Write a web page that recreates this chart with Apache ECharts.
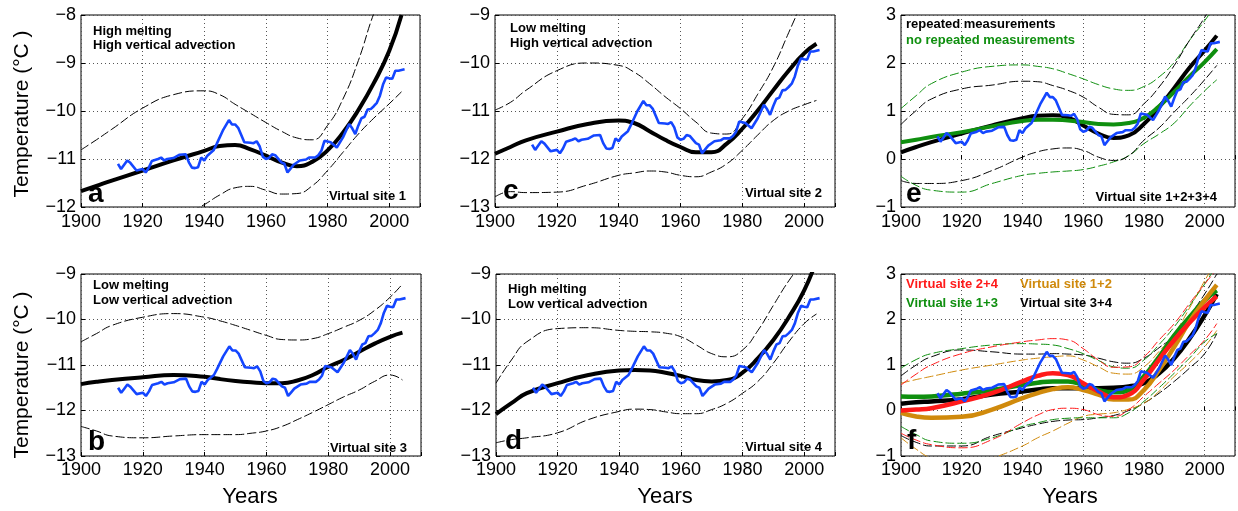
<!DOCTYPE html>
<html>
<head>
<meta charset="utf-8">
<script src="https://cdn.jsdelivr.net/npm/echarts@6/dist/echarts.min.js"></script>
<style>
html,body{margin:0;padding:0;background:#fff;}
#chart{width:1238px;height:511px;}
</style>
</head>
<body>
<div id="chart"></div>
<script>
// ---------- DATA ----------
const YEARS = [1900,1905,1910,1920,1930,1940,1945,1950,1955,1960,1965,1970,1975,1980,1985,1990,1995,2000,2004];

// Panel a
const aFit   = [-11.67,-11.56,-11.45,-11.24,-11.03,-10.83,-10.73,-10.71,-10.80,-10.93,-11.07,-11.15,-11.06,-10.82,-10.45,-9.98,-9.42,-8.75,-8.0];
const aUpper = [-10.81,-10.60,-10.38,-9.94,-9.66,-9.58,-9.66,-9.86,-10.05,-10.24,-10.42,-10.56,-10.60,-10.30,-9.75,-8.95,-7.97,-7.2,-6.5];
const aLower = [-13.05,-12.95,-12.85,-12.6,-12.3,-11.95,-11.75,-11.6,-11.57,-11.65,-11.73,-11.72,-11.56,-11.24,-10.86,-10.48,-10.15,-9.85,-9.6];
// Panel c
const cFit   = [-11.89,-11.75,-11.61,-11.43,-11.27,-11.20,-11.25,-11.42,-11.60,-11.75,-11.86,-11.86,-11.68,-11.37,-10.99,-10.57,-10.16,-9.80,-9.60];
const cUpper = [-10.98,-10.82,-10.57,-10.16,-10.0,-10.05,-10.19,-10.43,-10.70,-10.95,-11.23,-11.46,-11.48,-11.16,-10.65,-10.09,-9.37,-8.64,-8.06];
const cLower = [-12.79,-12.68,-12.70,-12.69,-12.54,-12.34,-12.29,-12.25,-12.27,-12.34,-12.37,-12.27,-12.10,-11.82,-11.5,-11.2,-11.0,-10.87,-10.78];
// Panel e
const eFitRep    = [0.14,0.25,0.35,0.53,0.70,0.85,0.90,0.91,0.86,0.70,0.53,0.44,0.49,0.73,1.08,1.48,1.90,2.26,2.57];
const eFitNoRep  = [0.35,0.40,0.46,0.56,0.68,0.79,0.82,0.82,0.80,0.77,0.73,0.72,0.75,0.86,1.10,1.40,1.72,2.02,2.29];
const eUpperRep  = [0.72,1.01,1.25,1.46,1.54,1.62,1.61,1.53,1.43,1.29,1.08,0.93,0.92,1.15,1.50,1.95,2.47,2.95,3.4];
const eLowerRep  = [-0.45,-0.51,-0.51,-0.45,-0.24,0.04,0.15,0.21,0.23,0.18,0.04,-0.03,0.07,0.39,0.65,0.98,1.30,1.65,1.95];
const eUpperNoRep= [1.05,1.32,1.57,1.81,1.93,1.96,1.93,1.88,1.78,1.67,1.55,1.46,1.43,1.51,1.71,2.02,2.47,2.88,3.25];
const eLowerNoRep= [-0.36,-0.55,-0.65,-0.69,-0.51,-0.34,-0.30,-0.27,-0.25,-0.22,-0.15,-0.06,0.07,0.32,0.52,0.75,1.10,1.42,1.65];
// Panel b
const bFit   = [-11.42,-11.37,-11.33,-11.27,-11.22,-11.26,-11.31,-11.35,-11.38,-11.40,-11.40,-11.34,-11.22,-11.04,-10.89,-10.71,-10.53,-10.38,-10.29];
const bUpper = [-10.49,-10.31,-10.13,-9.95,-9.87,-9.95,-10.03,-10.13,-10.24,-10.35,-10.44,-10.45,-10.42,-10.31,-10.17,-10.02,-9.80,-9.51,-9.22];
const bLower = [-12.35,-12.45,-12.56,-12.60,-12.56,-12.53,-12.53,-12.53,-12.50,-12.45,-12.35,-12.20,-12.04,-11.87,-11.70,-11.55,-11.36,-11.22,-11.33];
// Panel d
const dFit   = [-12.08,-11.84,-11.62,-11.40,-11.22,-11.12,-11.11,-11.12,-11.17,-11.24,-11.33,-11.36,-11.33,-11.17,-10.85,-10.45,-9.95,-9.36,-8.7];
const dUpper = [-11.4,-10.89,-10.49,-10.20,-10.18,-10.24,-10.26,-10.27,-10.30,-10.38,-10.56,-10.75,-10.82,-10.67,-10.24,-9.69,-9.15,-8.7,-8.3];
const dLower = [-12.71,-12.64,-12.60,-12.49,-12.20,-12.02,-11.97,-11.98,-12.03,-12.07,-12.07,-11.98,-11.84,-11.62,-11.36,-10.96,-10.49,-10.09,-9.88];
// Panel f
const fFit24   = [0.0,0.02,0.05,0.2,0.38,0.64,0.76,0.82,0.78,0.6,0.42,0.29,0.35,0.68,1.12,1.55,1.93,2.27,2.51];
const fFit13   = [0.31,0.30,0.31,0.37,0.45,0.56,0.61,0.64,0.64,0.56,0.45,0.40,0.45,0.75,1.18,1.65,2.05,2.42,2.64];
const fFit34   = [0.15,0.18,0.2,0.25,0.35,0.42,0.46,0.49,0.49,0.49,0.49,0.5,0.53,0.6,0.82,1.15,1.58,2.09,2.56];
const fFit12   = [-0.05,-0.13,-0.16,-0.14,0.02,0.27,0.38,0.47,0.51,0.45,0.35,0.24,0.24,0.45,0.89,1.4,1.95,2.42,2.76];
const fUp24    = [0.56,0.8,1.0,1.25,1.4,1.51,1.55,1.58,1.55,1.36,1.11,0.95,0.96,1.18,1.55,1.91,2.35,2.78,3.1];
const fLo24    = [-0.5,-0.65,-0.75,-0.82,-0.64,-0.27,-0.1,0.02,0.05,0.02,-0.09,-0.13,0.02,0.31,0.6,0.89,1.22,1.55,1.91];
const fUp13    = [0.93,1.12,1.25,1.36,1.44,1.47,1.46,1.44,1.36,1.25,1.1,0.96,0.93,1.11,1.45,1.84,2.3,2.78,3.2];
const fLo13    = [-0.35,-0.53,-0.67,-0.72,-0.6,-0.35,-0.27,-0.2,-0.17,-0.16,-0.16,-0.16,-0.05,0.2,0.5,0.82,1.15,1.51,1.69];
const fUp34    = [0.76,1.0,1.18,1.33,1.29,1.24,1.24,1.25,1.24,1.22,1.15,1.07,1.04,1.15,1.38,1.65,2.08,2.56,3.0];
const fLo34    = [-0.55,-0.7,-0.78,-0.78,-0.56,-0.38,-0.3,-0.24,-0.21,-0.2,-0.16,-0.11,0.0,0.16,0.38,0.64,0.93,1.25,1.69];
const fUp12    = [0.6,0.68,0.75,0.89,1.0,1.11,1.15,1.18,1.2,1.11,0.96,0.82,0.8,0.96,1.3,1.69,2.25,2.85,3.3];
const fLo12    = [-0.6,-0.85,-1.05,-1.25,-1.05,-0.78,-0.6,-0.45,-0.28,-0.13,-0.08,-0.05,0.03,0.16,0.42,0.75,1.05,1.4,1.76];

// Observations (blue)
const OBS_YEARS = [1912,1913,1914,1915,1916,1918,1920,1921,1922,1923,1925,1926,1927,1928,1930,1932,1934,1935,1936,1937,1938,1939,1940,1941,1943,1944,1946,1948,1949,1950,1951,1953,1955,1956,1957,1958,1959,1960,1961,1962,1963,1965,1966,1967,1968,1969,1971,1973,1974,1976,1977,1978,1979,1981,1983,1985,1987,1988,1989,1990,1991,1992,1993,1994,1995,1996,1997,1998,1999,2000,2001,2002,2003,2005];
const obsA = [-11.10,-11.21,-11.12,-11.03,-11.08,-11.24,-11.21,-11.28,-11.18,-11.04,-11.00,-10.97,-11.03,-11.00,-10.98,-10.91,-10.90,-11.07,-11.18,-11.19,-11.17,-10.97,-11.03,-10.93,-10.82,-10.69,-10.41,-10.19,-10.28,-10.28,-10.35,-10.65,-10.66,-10.67,-10.63,-10.74,-10.95,-11.00,-10.98,-10.90,-10.92,-11.07,-11.10,-11.28,-11.20,-11.12,-11.03,-11.01,-10.97,-10.97,-10.92,-10.83,-10.62,-10.65,-10.76,-10.55,-10.27,-10.36,-10.48,-10.30,-10.15,-10.12,-9.97,-9.96,-9.90,-9.83,-9.68,-9.45,-9.30,-9.32,-9.33,-9.16,-9.16,-9.13];
const obsC = [-11.70,-11.81,-11.72,-11.63,-11.68,-11.84,-11.81,-11.88,-11.78,-11.64,-11.60,-11.57,-11.63,-11.60,-11.58,-11.51,-11.50,-11.67,-11.78,-11.79,-11.77,-11.57,-11.63,-11.53,-11.42,-11.29,-11.01,-10.79,-10.88,-10.88,-10.95,-11.25,-11.26,-11.27,-11.23,-11.34,-11.55,-11.60,-11.58,-11.50,-11.52,-11.67,-11.70,-11.88,-11.80,-11.72,-11.63,-11.61,-11.57,-11.57,-11.52,-11.43,-11.22,-11.25,-11.36,-11.15,-10.87,-10.96,-11.08,-10.90,-10.75,-10.72,-10.57,-10.56,-10.50,-10.43,-10.28,-10.05,-9.90,-9.92,-9.93,-9.76,-9.76,-9.73];
const obsB = [-11.50,-11.61,-11.52,-11.43,-11.48,-11.64,-11.61,-11.68,-11.58,-11.44,-11.40,-11.37,-11.43,-11.40,-11.38,-11.31,-11.30,-11.47,-11.58,-11.59,-11.57,-11.37,-11.43,-11.33,-11.22,-11.09,-10.81,-10.59,-10.68,-10.68,-10.75,-11.05,-11.06,-11.07,-11.03,-11.14,-11.35,-11.40,-11.38,-11.30,-11.32,-11.47,-11.50,-11.68,-11.60,-11.52,-11.43,-11.41,-11.37,-11.37,-11.32,-11.23,-11.02,-11.05,-11.16,-10.95,-10.67,-10.76,-10.88,-10.70,-10.55,-10.52,-10.37,-10.36,-10.30,-10.23,-10.08,-9.85,-9.70,-9.72,-9.73,-9.56,-9.56,-9.53];
const obsD = [-11.50,-11.61,-11.52,-11.43,-11.48,-11.64,-11.61,-11.68,-11.58,-11.44,-11.40,-11.37,-11.43,-11.40,-11.38,-11.31,-11.30,-11.47,-11.58,-11.59,-11.57,-11.37,-11.43,-11.33,-11.22,-11.09,-10.81,-10.59,-10.68,-10.68,-10.75,-11.05,-11.06,-11.07,-11.03,-11.14,-11.35,-11.40,-11.38,-11.30,-11.32,-11.47,-11.50,-11.68,-11.60,-11.52,-11.43,-11.41,-11.37,-11.37,-11.32,-11.23,-11.02,-11.05,-11.16,-10.95,-10.67,-10.76,-10.88,-10.70,-10.55,-10.52,-10.37,-10.36,-10.30,-10.23,-10.08,-9.85,-9.70,-9.72,-9.73,-9.56,-9.56,-9.53];
const obsE = [0.47,0.36,0.45,0.54,0.49,0.33,0.36,0.29,0.39,0.53,0.57,0.60,0.54,0.57,0.59,0.66,0.67,0.50,0.39,0.38,0.40,0.60,0.54,0.64,0.75,0.88,1.16,1.38,1.29,1.29,1.22,0.92,0.91,0.90,0.94,0.83,0.62,0.57,0.59,0.67,0.65,0.50,0.47,0.29,0.37,0.45,0.54,0.56,0.60,0.60,0.65,0.74,0.95,0.92,0.81,1.02,1.30,1.21,1.09,1.27,1.42,1.45,1.60,1.61,1.67,1.74,1.89,2.12,2.27,2.25,2.24,2.41,2.41,2.44];
const obsF = [0.38,0.27,0.36,0.45,0.40,0.24,0.27,0.20,0.30,0.44,0.48,0.51,0.45,0.48,0.50,0.57,0.58,0.41,0.30,0.29,0.31,0.51,0.45,0.55,0.66,0.79,1.07,1.29,1.20,1.20,1.13,0.83,0.82,0.81,0.85,0.74,0.53,0.48,0.50,0.58,0.56,0.41,0.38,0.20,0.28,0.36,0.45,0.47,0.51,0.51,0.56,0.65,0.86,0.83,0.72,0.93,1.21,1.12,1.00,1.18,1.33,1.36,1.51,1.52,1.58,1.65,1.80,2.03,2.18,2.16,2.15,2.32,2.32,2.35];

const X_TICKS = [1900,1920,1940,1960,1980,2000];

// ---------- STYLE / LAYOUT ----------
const BLUE = '#1446ff', GREEN = '#0f8f0f', RED = '#ff1a1a', ORANGE = '#d08a0c', BLACK = '#000';
const FONT = "'Liberation Sans', Arial, Helvetica, sans-serif";

const panels = [
  {grid:{left:81, top:15, width:339, height:192}, y:[-12,-8],
   lines:[[aUpper,BLACK,'d'],[aLower,BLACK,'d'],[aFit,BLACK,'t']], obs:obsA},
  {grid:{left:495, top:15, width:340, height:192}, y:[-13,-9],
   lines:[[cUpper,BLACK,'d'],[cLower,BLACK,'d'],[cFit,BLACK,'t']], obs:obsC},
  {grid:{left:901, top:15, width:339, height:192}, y:[-1,3],
   lines:[[eUpperNoRep,GREEN,'d'],[eLowerNoRep,GREEN,'d'],[eUpperRep,BLACK,'d'],[eLowerRep,BLACK,'d'],
          [eFitRep,BLACK,'t'],[eFitNoRep,GREEN,'t']], obs:obsE},
  {grid:{left:81, top:274, width:340, height:182}, y:[-13,-9],
   lines:[[bUpper,BLACK,'d'],[bLower,BLACK,'d'],[bFit,BLACK,'t']], obs:obsB},
  {grid:{left:496, top:274, width:339, height:182}, y:[-13,-9],
   lines:[[dUpper,BLACK,'d'],[dLower,BLACK,'d'],[dFit,BLACK,'t']], obs:obsD},
  {grid:{left:901, top:274, width:339, height:182}, y:[-1,3],
   lines:[[fUp34,BLACK,'d'],[fLo34,BLACK,'d'],[fUp12,ORANGE,'d'],[fLo12,ORANGE,'d'],
          [fUp13,GREEN,'d'],[fLo13,GREEN,'d'],[fUp24,RED,'d'],[fLo24,RED,'d'],
          [fFit34,BLACK,'t'],[fFit13,GREEN,'t'],[fFit12,ORANGE,'t'],[fFit24,RED,'t']], obs:obsF}
];

const grids = [], xAxes = [], yAxes = [], series = [];
const minus = v => (v < 0 ? '\u2212' + Math.abs(v) : String(v));
panels.forEach((p, i) => {
  grids.push(Object.assign({show:true, borderColor:'#000', borderWidth:1, backgroundColor:'transparent'}, p.grid));
  xAxes.push({
    type:'value', gridIndex:i, min:1900, max:2010, interval:20,
    axisLine:{show:false},
    axisTick:{show:true, inside:true, length:4, lineStyle:{color:'#000'}},
    axisLabel:{margin: i < 3 ? 6 : 5, fontFamily:FONT, fontSize:18, color:'#000',
      formatter: v => (X_TICKS.indexOf(v) >= 0 ? String(v) : '')},
    splitLine:{show:true, lineStyle:{color:'#555', type:[1,3], width:1}}
  });
  yAxes.push({
    type:'value', gridIndex:i, min:p.y[0], max:p.y[1], interval:1,
    axisLine:{show:false},
    axisTick:{show:true, inside:true, length:4, lineStyle:{color:'#000'}},
    axisLabel:{margin:5, fontFamily:FONT, fontSize:18, color:'#000', formatter: minus},
    splitLine:{show:true, lineStyle:{color:'#555', type:[1,3], width:1}}
  });
  p.lines.forEach(([vals, color, kind]) => {
    const thick = kind === 't';
    series.push({
      type:'line', xAxisIndex:i, yAxisIndex:i, smooth:0.5, showSymbol:false, symbol:'none',
      clip:true, silent:true,
      data: YEARS.map((y, k) => [y, vals[k]]),
      lineStyle:{color:color, width: thick ? (i === 5 ? 4.5 : 4) : 1, type: thick ? 'solid' : [9,3]},
      z: thick ? 3 : 2
    });
  });
  series.push({
    type:'line', xAxisIndex:i, yAxisIndex:i, showSymbol:false, symbol:'none', clip:true, silent:true,
    data: OBS_YEARS.map((y, k) => [y, p.obs[k]]),
    lineStyle:{color:BLUE, width:2.6}, z:4
  });
});

function txt(text, x, y, opt) {
  opt = opt || {};
  return {
    type:'text', z:100, silent:true, rotation: opt.rot || 0, x:x, y:y,
    style:{
      text:text, fill: opt.color || '#000',
      font: (opt.weight || 'bold') + ' ' + (opt.size || 13) + 'px ' + FONT,
      textAlign: opt.align || 'left', align: opt.align || 'left',
      textVerticalAlign:'middle', verticalAlign:'middle'
    }
  };
}

const graphics = [
  // axis titles
  txt('Temperature (\u00B0C )', 22, 114, {rot:Math.PI/2, align:'center', size:21, weight:'normal'}),
  txt('Temperature (\u00B0C )', 22, 375, {rot:Math.PI/2, align:'center', size:21, weight:'normal'}),
  txt('Years', 250, 497, {align:'center', size:22, weight:'normal'}),
  txt('Years', 665, 497, {align:'center', size:22, weight:'normal'}),
  txt('Years', 1070, 497, {align:'center', size:22, weight:'normal'}),
  // panel letters
  txt('a', 88, 194, {size:28}),
  txt('c', 503, 191, {size:28}),
  txt('e', 906, 194, {size:28}),
  txt('b', 88, 442, {size:28}),
  txt('d', 505, 441, {size:28}),
  txt('f', 907, 441, {size:28}),
  // annotations
  txt('High melting', 93, 31), txt('High vertical advection', 93, 45),
  txt('Low melting', 510, 28), txt('High vertical advection', 510, 43),
  txt('Low melting', 93, 285), txt('Low vertical advection', 93, 300),
  txt('High melting', 508, 289), txt('Low vertical advection', 508, 304),
  txt('Virtual site 1', 406, 196, {align:'right'}),
  txt('Virtual site 2', 822, 193, {align:'right'}),
  txt('Virtual site 1+2+3+4', 1217, 197, {align:'right'}),
  txt('Virtual site 3', 407, 448, {align:'right'}),
  txt('Virtual site 4', 822, 447, {align:'right'}),
  txt('repeated measurements', 906, 24),
  txt('no repeated measurements', 906, 40, {color:GREEN}),
  txt('Virtual site 2+4', 906, 284, {color:RED}),
  txt('Virtual site 1+3', 906, 303, {color:GREEN}),
  txt('Virtual site 1+2', 1020, 284, {color:ORANGE}),
  txt('Virtual site 3+4', 1020, 303)
];

const chart = echarts.init(document.getElementById('chart'), null, {renderer:'canvas'});
chart.setOption({
  animation:false,
  backgroundColor:'#fff',
  grid:grids, xAxis:xAxes, yAxis:yAxes, series:series,
  graphic:{elements:graphics}
});
</script>
</body>
</html>
